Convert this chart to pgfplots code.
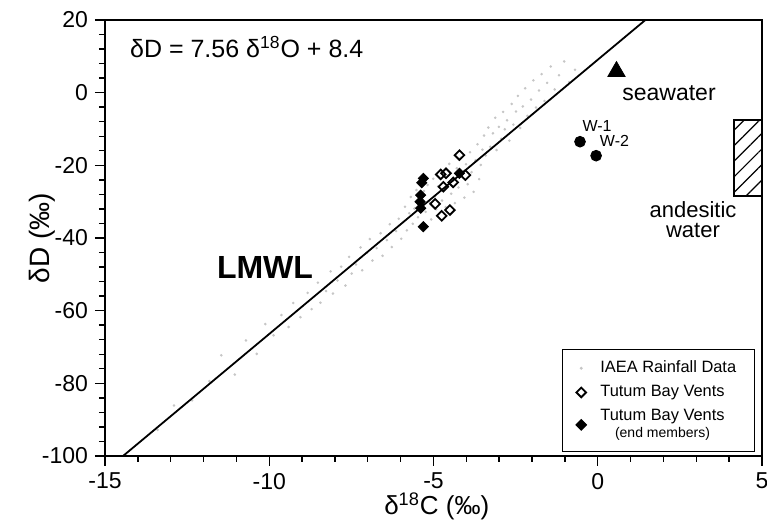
\documentclass[border=0pt]{standalone}
\usepackage{pgfplots}
\pgfplotsset{compat=1.18}
\usepackage{fontspec}
\setmainfont{Liberation Sans}
\usetikzlibrary{patterns.meta}

\begin{document}
\begin{tikzpicture}
\useasboundingbox (-52.5pt,-33pt) rectangle (331pt,228pt);
\begin{axis}[
  scale only axis, width=328.5pt, height=218pt,
  xmin=-15, xmax=5, ymin=-100, ymax=20,
  xtick={-15,-10,-5,0,5}, ytick={-100,-80,-60,-40,-20,0,20},
  minor x tick num=4, minor y tick num=4,
  tick pos=left, tick align=outside,
  major tick length=5pt, minor tick length=3pt,
  axis line style={line width=0.8pt},
  every tick/.style={black, line width=0.7pt},
  tick label style={font=\fontsize{11.5}{12}\selectfont},
  /pgf/number format/assume math mode=true,
  xlabel={δ\textsuperscript{18}C (‰)}, ylabel={δD (‰)},
  xlabel style={font=\fontsize{13}{14}\selectfont, at={(axis description cs:0.505,-0.115)}, anchor=center},
  ylabel style={font=\fontsize{14}{15}\selectfont, at={(axis description cs:-0.095,0.5)}, anchor=center},
  legend style={at={(0.989,0.009)}, anchor=south east, draw=black, line width=0.6pt,
    font=\fontsize{8.2}{8.5}\selectfont, nodes={align=center}, row sep=0.8pt,
    inner xsep=7pt, inner ysep=3.5pt, column sep=5pt},
  legend cell align=left,
  clip mode=individual,
]
\addplot[only marks, mark=*, mark size=0.42pt, gray!45, mark options={draw=none, fill=gray!45}] coordinates {
(-13.4,-92.8) (-12.9,-86.1) (-12.35,-84.7) (-11.82,-79.4) (-11.46,-72.3) (-11.05,-77.6) (-10.71,-68.2) (-10.38,-71.9) (-10.12,-63.7) (-9.87,-66.8) (-9.63,-61.2) (-9.41,-64.5) (-9.27,-57.9) (-9.05,-61.8)
(-8.83,-55.1) (-8.71,-59.6) (-8.52,-52.3) (-8.44,-57.8) (-8.27,-54.6) (-8.13,-49.2) (-8.06,-55.3) (-7.92,-51.7) (-7.81,-47.9) (-7.68,-53.1) (-7.57,-45.2) (-7.49,-49.8) (-7.36,-47.3) (-7.22,-42.6) (-7.17,-48.9) (-7.03,-44.1) (-6.94,-40.3) (-6.86,-46.2) (-6.73,-42.8) (-6.61,-38.7) (-6.55,-44.9) (-6.42,-40.6) (-6.33,-36.2) (-6.27,-42.5) (-6.14,-38.1) (-6.06,-34.7) (-5.98,-40.2)
(-5.92,-35.6) (-5.87,-31.4) (-5.81,-37.9) (-5.74,-33.2) (-5.69,-28.7) (-5.63,-36.1) (-5.58,-31.9) (-5.52,-26.8) (-5.47,-34.3) (-5.43,-29.6) (-5.36,-37.2) (-5.29,-27.1) (-5.24,-32.8) (-5.18,-25.4) (-5.12,-30.2) (-5.07,-34.9) (-5.01,-23.7) (-4.96,-28.6) (-4.92,-32.1) (-4.86,-25.8) (-4.79,-21.3) (-4.74,-29.7) (-4.68,-26.4) (-4.63,-31.5) (-4.57,-22.9) (-4.52,-19.6) (-4.46,-27.8) (-4.41,-24.2) (-4.35,-30.4) (-4.29,-20.8) (-4.24,-26.1) (-4.17,-17.9) (-4.12,-23.3) (-4.06,-28.9) (-4.01,-19.7) (-3.96,-25.2) (-3.89,-16.4) (-3.84,-21.9) (-3.78,-27.3) (-3.72,-18.6) (-3.66,-14.2) (-3.61,-23.8) (-3.56,-19.9) (-3.51,-15.7)
(-3.46,-11.8) (-3.41,-17.3) (-3.33,-9.6) (-3.27,-14.9) (-3.19,-11.2) (-3.12,-6.9) (-3.08,-15.8) (-3.01,-9.4) (-2.94,-12.7) (-2.88,-5.3) (-2.83,-10.1) (-2.76,-7.6) (-2.69,-13.2) (-2.62,-3.1) (-2.57,-8.8) (-2.49,-5.2) (-2.43,-0.9) (-2.36,-9.7) (-2.28,-3.8) (-2.21,1.2) (-2.14,-6.4) (-2.03,-1.9) (-1.96,3.4) (-1.88,-4.1) (-1.79,0.6) (-1.71,5.1) (-1.62,-2.3) (-1.54,2.7) (-1.43,7.2) (-1.31,0.9) (-1.18,4.8) (-1.02,8.6) (-0.87,2.9) (-0.69,6.3)
};
\addlegendentry{IAEA Rainfall Data}
\addplot[only marks, black, mark=square, mark size=1.7pt, mark options={rotate=45, line width=0.9pt, fill=white}] coordinates {
(-4.21,-17.2) (-4.78,-22.5) (-4.62,-22.2) (-4.03,-22.7) (-4.40,-24.7) (-4.70,-25.9) (-4.95,-30.6) (-4.50,-32.3) (-4.75,-33.9)
};
\addlegendentry{Tutum Bay Vents}
\addplot[only marks, black, mark=square*, mark size=1.8pt, mark options={rotate=45}] coordinates {
(-5.31,-23.6) (-5.36,-24.8) (-5.39,-28.2) (-5.41,-30.0) (-5.39,-31.8) (-5.31,-36.9) (-4.21,-22.2)
};
\addlegendentry{Tutum Bay Vents\\{\fontsize{7}{7.5}\selectfont (end members)}}
\addplot[black, line width=0.9pt, forget plot] coordinates {(-14.45,-100) (1.45,20)};
\addplot[only marks, black, mark=triangle*, mark size=5pt, forget plot] coordinates {(0.57,5.8)};
\addplot[only marks, black, mark=*, mark size=2.7pt, forget plot] coordinates {(-0.54,-13.5) (-0.05,-17.35)};
\addplot[draw=black, line width=1pt, pattern={Lines[angle=45, distance=5.5pt, line width=0.6pt]}, forget plot] coordinates {(4.15,-7.5) (5,-7.5) (5,-28.4) (4.15,-28.4)} -- cycle;
\node[anchor=west, font=\fontsize{12.5}{13}\selectfont] at (axis cs:-14.45,12.6) {δD = 7.56 δ\textsuperscript{18}O + 8.4};
\node[font=\bfseries\fontsize{16}{16}\selectfont] at (axis cs:-10.13,-48) {LMWL};
\node[font=\fontsize{11.5}{12}\selectfont] at (axis cs:2.17,-0.1) {seawater};
\node[font=\fontsize{11}{10}\selectfont, align=center] at (axis cs:2.9,-35) {andesitic\\water};
\node[font=\fontsize{8}{9}\selectfont] at (axis cs:-0.02,-9.2) {W-1};
\node[font=\fontsize{8}{9}\selectfont] at (axis cs:0.51,-13.2) {W-2};
\end{axis}
\end{tikzpicture}
\end{document}
